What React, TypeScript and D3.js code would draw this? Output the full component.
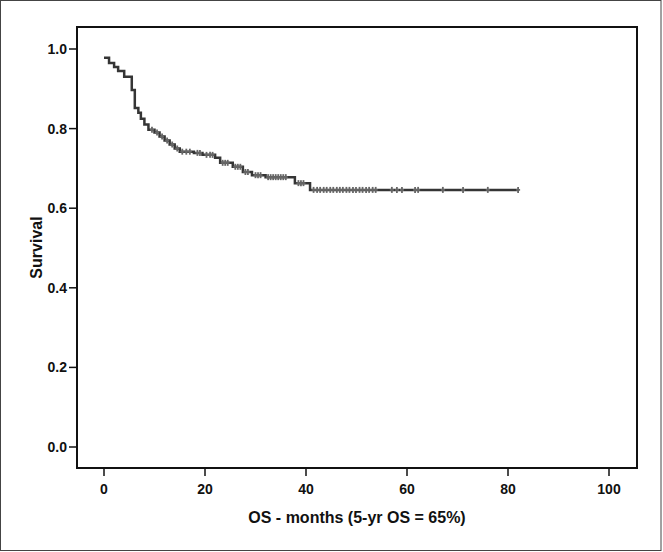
import * as d3 from "d3";
import React from "react";

// Kaplan-Meier steps (months, survival)
const eventTimes = [0, 1, 2, 2.8, 4, 5.5, 6.1, 6.8, 7.3, 8, 8.8, 10, 11, 12, 13, 14, 15, 17.8, 19.5, 22, 23, 25.5, 27.5, 29.3, 32, 37.8, 40.8];
const survival = [0.978, 0.965, 0.955, 0.945, 0.93, 0.897, 0.852, 0.84, 0.825, 0.81, 0.797, 0.79, 0.78, 0.77, 0.76, 0.75, 0.742, 0.739, 0.734, 0.727, 0.714, 0.704, 0.691, 0.683, 0.678, 0.663, 0.646];
const lastTime = 82;

// censored observations (months)
const censorTimes = [
  9.5, 10.5, 11.5, 12.5, 13.5, 14.5, 15.5, 16.3, 17, 18.5, 19, 20.3, 21, 21.5,
  23.5, 24, 24.5, 26, 26.5, 27, 28, 28.5, 30, 30.5, 31, 32.5, 33, 33.5, 34, 34.5,
  35, 35.5, 36, 38.5, 39, 39.5, 41.5, 42.2, 42.8, 43.5, 44.1, 44.8, 45.4, 46.1,
  46.7, 47.3, 48, 48.6, 49.3, 49.9, 50.6, 51.2, 51.9, 52.5, 53.2, 53.8, 57, 58,
  59, 61.6, 62.2, 67.1, 71.1, 76, 82,
];

const xTicks = [0, 20, 40, 60, 80, 100];
const yTicks = [0, 0.2, 0.4, 0.6, 0.8, 1.0];

const W = 663;
const H = 552;
const frame = { left: 77, top: 27, right: 637, bottom: 468 };
const font = "'Liberation Sans', Arial, sans-serif";

function survivalAt(t: number) {
  let s = survival[0];
  for (let i = 0; i < eventTimes.length; i++) {
    if (eventTimes[i] <= t) s = survival[i];
  }
  return s;
}

export default function App() {
  const x = d3.scaleLinear().domain([0, 100]).range([104, 609]);
  const y = d3.scaleLinear().domain([0, 1]).range([447, 49]);

  const pts: [number, number][] = eventTimes.map((t, i) => [t, survival[i]]);
  pts.push([lastTime, survival[survival.length - 1]]);
  const line = d3
    .line<[number, number]>()
    .x((d) => x(d[0]))
    .y((d) => y(d[1]))
    .curve(d3.curveStepAfter);

  return (
    <svg
      width={W}
      height={H}
      style={{ position: "absolute", left: 0, top: 0, background: "#fff" }}
    >
      <rect x={0.5} y={0.5} width={660.5} height={550} fill="#fff" stroke="#444" strokeWidth={1} />
      <rect
        x={frame.left}
        y={frame.top}
        width={frame.right - frame.left}
        height={frame.bottom - frame.top}
        fill="none"
        stroke="#111"
        strokeWidth={2}
      />

      {/* y axis */}
      {yTicks.map((v) => (
        <g key={"y" + v}>
          <line x1={frame.left - 8} x2={frame.left} y1={y(v)} y2={y(v)} stroke="#111" strokeWidth={1.5} />
          <text
            x={frame.left - 10}
            y={y(v)}
            dy="0.36em"
            textAnchor="end"
            fontFamily={font}
            fontWeight="bold"
            fontSize={14}
            fill="#111"
          >
            {d3.format(".1f")(v)}
          </text>
        </g>
      ))}

      {/* x axis */}
      {xTicks.map((v) => (
        <g key={"x" + v}>
          <line x1={x(v)} x2={x(v)} y1={frame.bottom} y2={frame.bottom + 8} stroke="#111" strokeWidth={1.5} />
          <text
            x={x(v)}
            y={frame.bottom + 21}
            dy="0.36em"
            textAnchor="middle"
            fontFamily={font}
            fontWeight="bold"
            fontSize={14}
            fill="#111"
          >
            {v}
          </text>
        </g>
      ))}

      <text
        transform={`translate(36,${(frame.top + frame.bottom) / 2}) rotate(-90)`}
        textAnchor="middle"
        dy="0.36em"
        fontFamily={font}
        fontWeight="bold"
        fontSize={16}
        fill="#111"
      >
        Survival
      </text>
      <text
        x={(frame.left + frame.right) / 2}
        y={517}
        dy="0.36em"
        textAnchor="middle"
        fontFamily={font}
        fontWeight="bold"
        fontSize={16}
        fill="#111"
      >
        OS - months (5-yr OS = 65%)
      </text>

      <path d={line(pts) || ""} fill="none" stroke="#353535" strokeWidth={2.5} />

      {censorTimes.map((t, i) => (
        <g key={"c" + i} stroke="#666" strokeWidth={1.8}>
          <line x1={x(t)} x2={x(t)} y1={y(survivalAt(t)) - 3} y2={y(survivalAt(t)) + 3} />
          <line x1={x(t) - 2} x2={x(t) + 2} y1={y(survivalAt(t))} y2={y(survivalAt(t))} />
        </g>
      ))}
    </svg>
  );
}
